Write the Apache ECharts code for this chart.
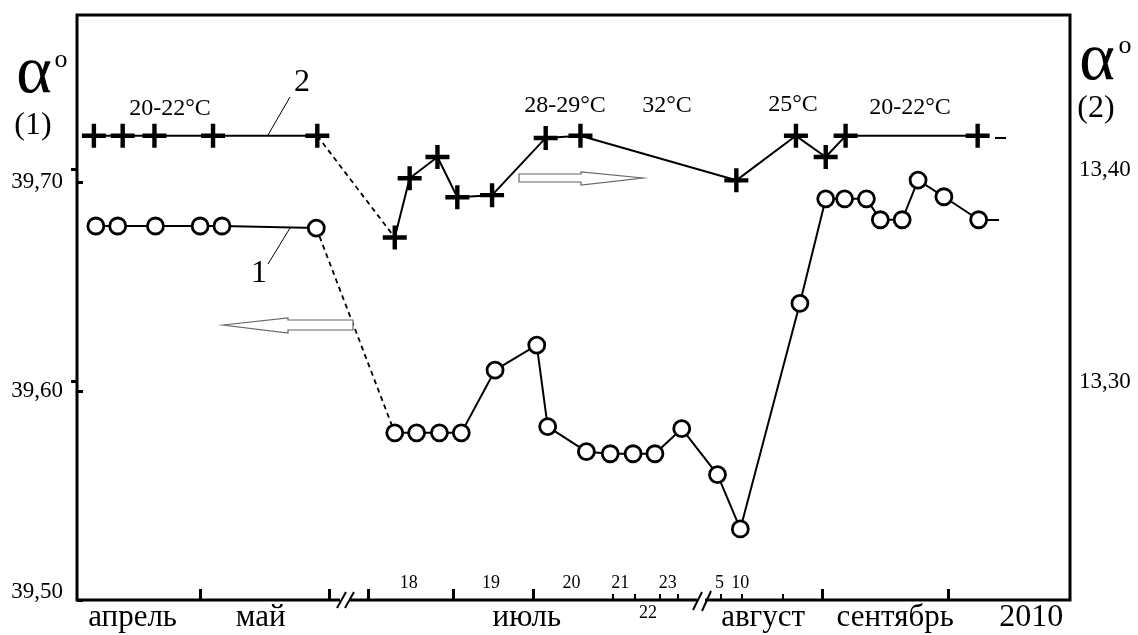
<!DOCTYPE html>
<html><head><meta charset="utf-8">
<script src="https://cdn.jsdelivr.net/npm/echarts@6/dist/echarts.min.js"></script>
<style>html,body{margin:0;padding:0;background:#fff}#c{width:1138px;height:635px}</style>
</head><body><div id="c"></div>
<script>
// timeline position (0-100 along the broken time axis)
const xPos1 = [1.9, 4.1, 7.9, 12.4, 14.6, 24.1, 32.0, 34.2, 36.5, 38.7, 42.1, 46.3, 47.4, 51.3, 53.7, 56.0, 58.2, 60.9, 64.5, 66.8, 72.8, 75.4, 77.3, 79.5, 80.9, 83.1, 84.7, 87.3, 90.8];
const alpha1 = [39.679, 39.679, 39.679, 39.679, 39.679, 39.678, 39.580, 39.580, 39.580, 39.580, 39.610, 39.622, 39.583, 39.571, 39.570, 39.570, 39.570, 39.582, 39.560, 39.534, 39.642, 39.692, 39.692, 39.692, 39.682, 39.682, 39.701, 39.693, 39.682];
const xPos2 = [1.7, 4.6, 7.8, 13.7, 24.2, 32.0, 33.5, 36.3, 38.3, 41.8, 47.2, 50.7, 66.4, 72.4, 75.4, 77.4, 90.7];
const alpha2 = [13.416, 13.416, 13.416, 13.416, 13.416, 13.368, 13.396, 13.406, 13.387, 13.388, 13.415, 13.416, 13.395, 13.416, 13.406, 13.416, 13.416];
const gap1 = 6; // index where the dashed break ends (series 1)
const gap2 = 5; // same for series 2

const monthNames = ['апрель', 'май', 'июль', 'август', 'сентябрь', '2010'];
const monthPos = [5.6, 18.5, 45.3, 69.1, 82.4, 96.1];
const dayNames = ['18', '19', '20', '21', '23', '5', '10'];
const dayPos = [33.4, 41.7, 49.8, 54.7, 59.5, 64.7, 66.8];
const dayBelowNames = ['22'];
const dayBelowPos = [57.5];
const majorTicks = [12.4, 25.4, 29.3, 37.9, 45.9, 75.1, 87.7];
const minorTicks = [54.0, 56.2, 58.7, 60.5, 64.8, 66.9, 71.1];
const leftTicks = [39.5, 39.6, 39.7];
const rightTicks = [13.3, 13.4];
const tempLabels = ['20-22°C', '28-29°C', '32°C', '25°C', '20-22°C'];

const FONT = '"Liberation Serif","Times New Roman",serif';
const crossPath = 'path://M9.8,0H14.2V9.8H24V14.2H14.2V24H9.8V14.2H0V9.8H9.8Z';

function pts(xs, ys, a, b) { const r = []; for (let i = a; i < b; i++) r.push([xs[i], ys[i]]); return r; }
function nameAt(names, pos, v) { for (let i = 0; i < pos.length; i++) if (Math.abs(pos[i] - v) < 0.01) return names[i]; return ''; }

const chart = echarts.init(document.getElementById('c'));
const lineSolid = { color: '#000', width: 2 };
const lineDash = { color: '#000', width: 1.8, type: [5, 4] };
const circleItem = { color: '#fff', borderColor: '#000', borderWidth: 2.8 };
const crossItem = { color: '#000' };

const txt = (x, y, text, size, extra) => Object.assign({
  type: 'text', x: x, y: y, z: 100,
  style: Object.assign({ text: text, font: size + 'px ' + FONT, fill: '#000', align: 'center', verticalAlign: 'middle' }, extra || {})
});
const seg = (x1, y1, x2, y2, w) => ({ type: 'line', z: 100, shape: { x1, y1, x2, y2 }, style: { stroke: '#000', lineWidth: w } });
const fmtY = v => v.toFixed(2).replace('.', ',');

const option = {
  animation: false,
  backgroundColor: '#fff',
  grid: { left: 77, right: 68, top: 15, bottom: 35, show: true, borderColor: '#000', borderWidth: 3, backgroundColor: 'transparent' },
  xAxis: [
    { type: 'value', min: 0, max: 100, position: 'bottom', axisLine: { show: false }, splitLine: { show: false },
      axisTick: { show: true, inside: true, length: 11, lineStyle: { color: '#000', width: 3 }, customValues: majorTicks },
      axisLabel: { show: true, margin: 2, customValues: monthPos, color: '#000', fontFamily: FONT, fontSize: 31,
        formatter: v => { const n = nameAt(monthNames, monthPos, v); return n === '2010' ? '{y|2010}' : n; },
        rich: { y: { fontFamily: FONT, fontSize: 32, color: '#000' } } } },
    { type: 'value', min: 0, max: 100, position: 'bottom', axisLine: { show: false }, splitLine: { show: false },
      axisTick: { show: true, inside: true, length: 6, lineStyle: { color: '#000', width: 2 }, customValues: minorTicks },
      axisLabel: { show: true, inside: true, margin: 8, customValues: dayPos, color: '#000', fontFamily: FONT, fontSize: 18,
        formatter: v => nameAt(dayNames, dayPos, v) } },
    { type: 'value', min: 0, max: 100, position: 'bottom', axisLine: { show: false }, splitLine: { show: false },
      axisTick: { show: false },
      axisLabel: { show: true, margin: 4, customValues: dayBelowPos, color: '#000', fontFamily: FONT, fontSize: 18,
        formatter: v => nameAt(dayBelowNames, dayBelowPos, v) } }
  ],
  yAxis: [
    { type: 'value', min: 39.5, max: 39.78, position: 'left', axisLine: { show: false }, splitLine: { show: false },
      axisTick: { show: true, inside: true, length: 6, lineStyle: { color: '#000', width: 3 }, customValues: leftTicks },
      axisLabel: { margin: 14, customValues: leftTicks, color: '#000', fontFamily: FONT, fontSize: 23,
        formatter: v => Math.abs(v - 39.5) < 1e-6 ? '{b|' + fmtY(v) + '}' : fmtY(v),
        rich: { b: { fontFamily: FONT, fontSize: 23, color: '#000', padding: [0, 0, 16, 0] } } } },
    { type: 'value', min: 13.197, max: 13.473, position: 'right', axisLine: { show: false }, splitLine: { show: false },
      axisTick: { show: true, inside: true, length: 6, lineStyle: { color: '#000', width: 3 }, customValues: rightTicks },
      axisLabel: { margin: 9, customValues: rightTicks, color: '#000', fontFamily: FONT, fontSize: 23, formatter: fmtY } }
  ],
  series: [
    { type: 'line', yAxisIndex: 0, data: pts(xPos1, alpha1, gap1 - 1, gap1 + 1), symbol: 'none', lineStyle: lineDash, z: 2, silent: true },
    { type: 'line', yAxisIndex: 0, data: pts(xPos1, alpha1, 0, gap1), symbol: 'circle', symbolSize: 16, itemStyle: circleItem, lineStyle: lineSolid, z: 3 },
    { type: 'line', yAxisIndex: 0, data: pts(xPos1, alpha1, gap1, xPos1.length), symbol: 'circle', symbolSize: 16, itemStyle: circleItem, lineStyle: lineSolid, z: 3 },
    { type: 'line', yAxisIndex: 1, data: pts(xPos2, alpha2, gap2 - 1, gap2 + 1), symbol: 'none', lineStyle: lineDash, z: 2, silent: true },
    { type: 'line', yAxisIndex: 1, data: pts(xPos2, alpha2, 0, gap2), symbol: crossPath, symbolSize: 24, itemStyle: crossItem, lineStyle: lineSolid, z: 3 },
    { type: 'line', yAxisIndex: 1, data: pts(xPos2, alpha2, gap2, xPos2.length), symbol: crossPath, symbolSize: 24, itemStyle: crossItem, lineStyle: lineSolid, z: 3 }
  ],
  graphic: [
    // axis titles
    txt(34, 74, 'α', 68), txt(61, 60, 'o', 26), txt(33, 126, '(1)', 32),
    txt(1097, 61, 'α', 68), txt(1125, 46, 'o', 26), txt(1096, 109, '(2)', 32),
    // curve numbers with leaders
    txt(259, 274, '1', 32), seg(268, 264, 290, 228, 1),
    txt(302, 83, '2', 32), seg(268, 135, 290, 97, 1),
    // temperature annotations
    txt(170, 109, tempLabels[0], 24), txt(565, 106, tempLabels[1], 24), txt(667, 106, tempLabels[2], 24),
    txt(793, 105, tempLabels[3], 24), txt(910, 108, tempLabels[4], 24),
    // arrows
    { type: 'polygon', z: 100, shape: { points: [[223, 325], [288, 318], [288, 320], [353, 320], [353, 330], [288, 330], [288, 333]] }, style: { fill: '#fff', stroke: '#666', lineWidth: 1.2 } },
    { type: 'polygon', z: 100, shape: { points: [[519, 174], [581, 174], [581, 172], [643, 178], [581, 185], [581, 182], [519, 182]] }, style: { fill: '#fff', stroke: '#666', lineWidth: 1.2 } },
    // axis breaks
    { type: 'rect', z: 100, shape: { x: 340, y: 595, width: 9, height: 10 }, style: { fill: '#fff' } },
    seg(337, 608, 346, 592, 2), seg(345, 608, 354, 592, 2),
    { type: 'rect', z: 100, shape: { x: 697, y: 595, width: 8, height: 10 }, style: { fill: '#fff' } },
    seg(693, 610, 702, 592, 2), seg(702, 611, 711, 591, 2),
    // end dashes
    seg(988, 220, 999, 220, 2), seg(995, 138, 1006, 138, 2)
  ]
};
chart.setOption(option);
</script></body></html>
